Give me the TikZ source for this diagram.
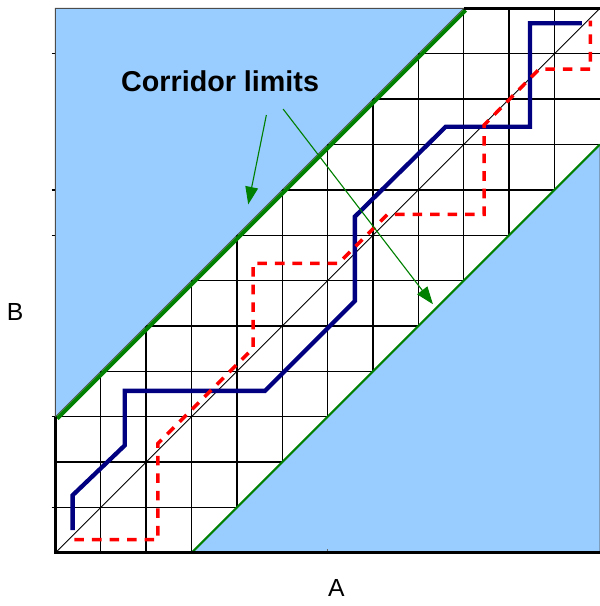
\documentclass[tikz,border=0pt]{standalone}
\usepackage{fontspec}
\setmainfont{Liberation Sans}
\usetikzlibrary{arrows.meta,positioning}
\definecolor{corrblue}{HTML}{99CCFF}
\definecolor{corrgreen}{HTML}{008000}
\definecolor{warpnavy}{HTML}{000080}
\definecolor{warpred}{HTML}{FF0000}

\begin{document}
\begin{tikzpicture}[
    x=1cm, y=1cm,
    every node/.style={align=center, font=\fontsize{15.5}{18}\selectfont},
    zone/.style={fill=corrblue, draw=black!70, line width=0.5pt},
    gridline/.style={black, line width=0.85pt},
    limit/.style={corrgreen, line width=2.6pt},
    arrow/.style={-{Triangle[length=11pt, width=8pt]}, corrgreen, line width=0.7pt},
    warp/.style={warpnavy, line width=2.7pt},
    warpalt/.style={warpred, line width=2.2pt, dash pattern=on 6pt off 5pt}
]
    \useasboundingbox (-1.22,-1.17) rectangle (11.98,12.184);

    % forbidden zones outside the corridor
    \filldraw[zone] (0,3) -- (0,12) -- (9,12) -- cycle;
    \filldraw[zone] (3,0) -- (12,0) -- (12,9) -- cycle;

    % grid inside the corridor
    \begin{scope}
        \clip (0,0) -- (3,0) -- (12,9) -- (12,12) -- (9,12) -- (0,3) -- cycle;
        \foreach \i in {1,...,11} {
            \draw[gridline] (\i,0) -- (\i,12);
            \draw[gridline] (0,\i) -- (12,\i);
        }
    \end{scope}
    \foreach \j in {1,3,7,8,11}
        \draw[gridline] (-0.08,\j) -- (0,\j);
    \draw[gridline, black!60] (6,0) -- (6,0.08);

    % diagonal
    \draw[black, line width=0.6pt] (0,0) -- (12,12);

    % corridor limits
    \draw[limit, shift={(0.04,-0.04)}] (0,3) -- (9,12);
    \draw[corrgreen, line width=1.3pt] (3,0) -- (12,9);

    % frame
    \draw[black!70, line width=0.5pt] (0,0) rectangle (12,12);
    \draw[black, line width=2pt] (0,3) -- (0,0) -- (12,0);
    \draw[black, line width=2pt] (9,12) -- (12,12);

    % warping paths
    \draw[warp] (0.38,0.5) -- (0.38,1.27) -- (1.53,2.37) -- (1.53,3.57) -- (4.62,3.57)
        -- (6.6,5.55) -- (6.6,7.41) -- (8.6,9.39) -- (10.46,9.39) -- (10.46,11.67) -- (11.6,11.67);
    \draw[warpalt] (0.42,0.29) -- (2.26,0.29) -- (2.26,2.41) -- (4.36,4.51) -- (4.36,6.38)
        -- (6.24,6.38) -- (7.32,7.46) -- (9.45,7.46) -- (9.45,9.43) -- (10.66,10.66)
        -- (11.79,10.66) -- (11.79,11.73);

    % labels
    \node[font=\bfseries\fontsize{18}{21}\selectfont] (limits) at (3.63,10.39) {Corridor limits};
    \node (axisB) at (-0.885,5.31) {B};
    \node (axisA) at (6.19,-0.77) {A};

    \coordinate (upperFrom) at (4.65,9.65);
    \coordinate (lowerFrom) at (5.02,9.78);
    \coordinate (upperTip) at (4.25,7.68);
    \coordinate (lowerTip) at (8.32,5.48);
    \draw[arrow] (upperFrom) -- (upperTip);
    \draw[arrow] (lowerFrom) -- (lowerTip);
\end{tikzpicture}
\end{document}
